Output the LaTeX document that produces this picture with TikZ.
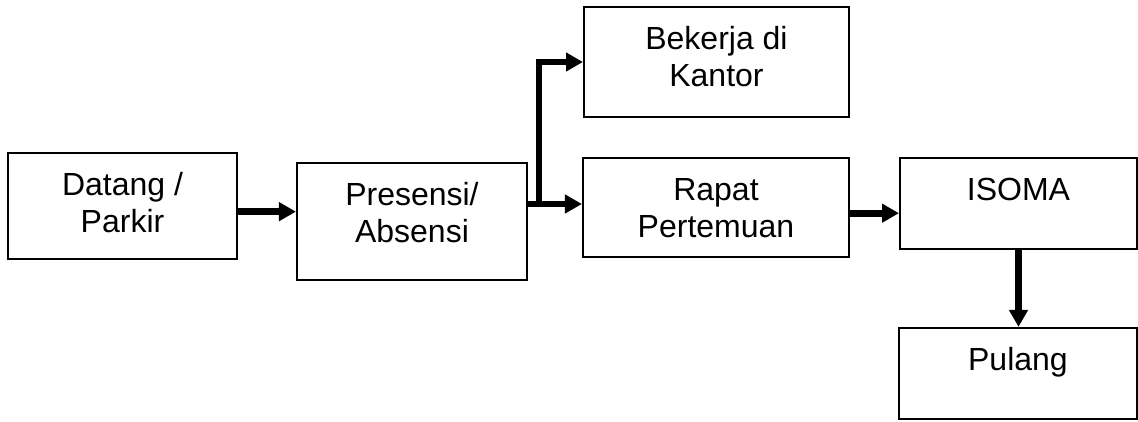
\documentclass[tikz,border=0pt]{standalone}
\usepackage{fontspec}
\setmainfont{Liberation Sans}
\usetikzlibrary{arrows.meta}
\tikzset{
    kotak/.style={draw, line width=1pt, inner sep=0pt, align=center,
        font=\fontsize{16}{18.5}\selectfont, text height=0.74cm},
    duabaris/.style={text height=1.39cm},
    panah/.style={line width=3.4pt, -{Triangle[length=8.5pt,width=9pt]}}
}

\begin{document}
\begin{tikzpicture}
            \useasboundingbox (0,0) rectangle (20,-7.4);
            \node (datang) at (2.153,-3.62) [kotak, duabaris, minimum width=4.025cm, minimum height=1.863cm, text depth=0.473cm] {Datang /\\Parkir};
            \node (presensi) at (7.24,-3.893) [kotak, duabaris, minimum width=4.042cm, minimum height=2.056cm, text depth=0.666cm] {Presensi/\\Absensi};
            \node (bekerja) at (12.592,-1.09) [kotak, duabaris, minimum width=4.657cm, minimum height=1.933cm, text depth=0.543cm] {Bekerja di\\Kantor};
            \node (rapat) at (12.583,-3.647) [kotak, duabaris, minimum width=4.675cm, minimum height=1.74cm, text depth=0.35cm] {Rapat\\Pertemuan};
            \node (isoma) at (17.9,-3.577) [kotak, minimum width=4.165cm, minimum height=1.6cm, text depth=0.86cm] {ISOMA};
            \node (pulang) at (17.89,-6.564) [kotak, minimum width=4.18cm, minimum height=1.6cm, text depth=0.86cm] {Pulang};
            \coordinate (cabang) at (9.473,-3.585);
            \draw[panah] ([yshift=-1mm]datang.east) -- ([yshift=-1mm]datang.east -| presensi.west);
            \draw[panah] (presensi.east |- cabang) -- (cabang -| rapat.west);
            \draw[panah] ([yshift=1.7pt]cabang) |- (bekerja.west);
            \draw[panah] ([yshift=-1mm]rapat.east) -- ([yshift=-1mm]rapat.east -| isoma.west);
            \draw[panah] (isoma.south) -- (isoma.south |- pulang.north);
        \end{tikzpicture}
\end{document}
